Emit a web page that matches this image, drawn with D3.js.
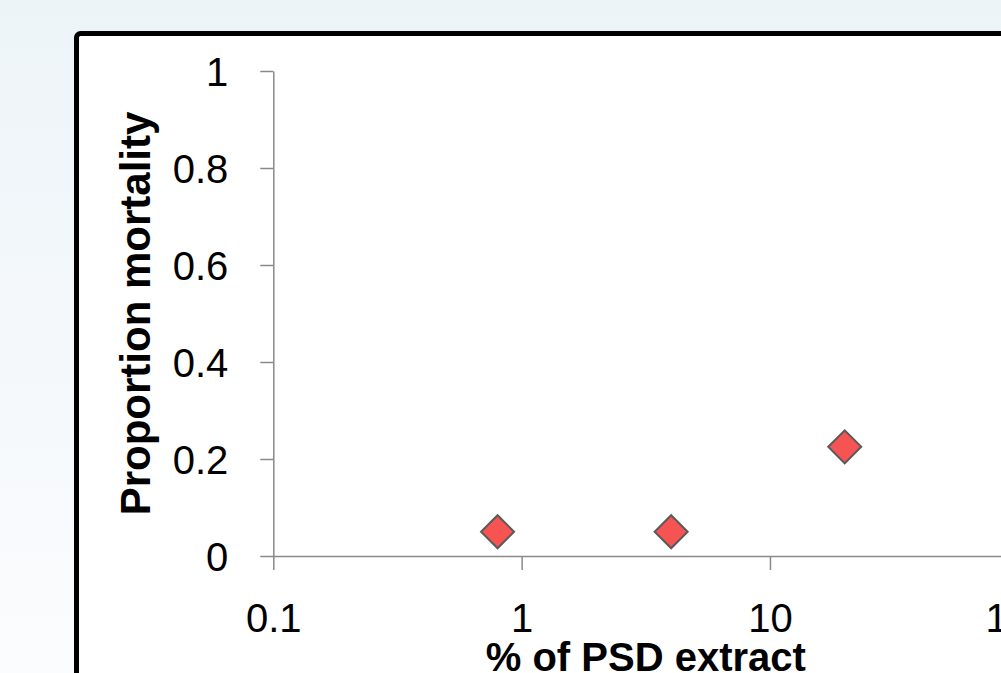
<!DOCTYPE html>
<html>
<head>
<meta charset="utf-8">
<script src="https://cdn.jsdelivr.net/npm/d3@7"></script>
<style>
  html, body { margin: 0; padding: 0; overflow: hidden; }
  svg { display: block; }
</style>
</head>
<body>
<svg id="chart" width="1001" height="673"></svg>
<script>
// ---- data ----
const xTickValues = [0.1, 1, 10, 100];
const xTickLabels = ["0.1", "1", "10", "100"];
const yTickValues = [0, 0.2, 0.4, 0.6, 0.8, 1];
const yTickLabels = ["0", "0.2", "0.4", "0.6", "0.8", "1"];
const pctExtract = [0.8, 4, 20];
const mortality = [0.05, 0.05, 0.225];
const xTitle = "% of PSD extract";
const yTitle = "Proportion mortality";

// ---- layout ----
const W = 1001, H = 673;
const svg = d3.select("#chart");
const defs = svg.append("defs");
const grad = defs.append("linearGradient").attr("id", "bg")
  .attr("x1", 0).attr("y1", 0).attr("x2", 0).attr("y2", 1);
grad.append("stop").attr("offset", "0%").attr("stop-color", "#edf4f8");
grad.append("stop").attr("offset", "100%").attr("stop-color", "#fbfcfe");

svg.append("rect").attr("width", W).attr("height", H).attr("fill", "url(#bg)");

// chart box
svg.append("rect")
  .attr("x", 76.5).attr("y", 33.5)
  .attr("width", 1100).attr("height", 900)
  .attr("rx", 4)
  .attr("fill", "#ffffff")
  .attr("stroke", "#000000")
  .attr("stroke-width", 5);

const x = d3.scaleLog().domain([0.1, 100]).range([273.3, 1018.3]);
const y = d3.scaleLinear().domain([0, 1]).range([556, 71]);

const font = "'Liberation Sans', Arial, sans-serif";
const axisColor = "#8a8a8a";

// y axis
const yAxis = svg.append("g")
  .attr("transform", `translate(${x(0.1)},0)`)
  .call(d3.axisLeft(y).tickValues(yTickValues)
    .tickFormat((d, i) => yTickLabels[i])
    .tickSize(13).tickSizeOuter(0).tickPadding(32));
yAxis.selectAll("text").attr("dy", "0.36em");

// x axis
const xAxis = svg.append("g")
  .attr("transform", `translate(0,${y(0)})`)
  .call(d3.axisBottom(x).tickValues(xTickValues)
    .tickFormat((d, i) => xTickLabels[i])
    .tickSize(14).tickSizeOuter(0).tickPadding(33.6));

[yAxis, xAxis].forEach(g => {
  g.select(".domain").attr("stroke", axisColor).attr("stroke-width", 1.5);
  g.selectAll(".tick line").attr("stroke", axisColor).attr("stroke-width", 1.5);
  g.selectAll("text").attr("fill", "#000").style("font-family", font).style("font-size", "40px");
});

// axis titles
svg.append("text")
  .attr("x", (x.range()[0] + x.range()[1]) / 2)
  .attr("y", 671)
  .attr("text-anchor", "middle")
  .style("font-family", font).style("font-size", "40px").style("font-weight", "bold")
  .text(xTitle);

svg.append("text")
  .attr("transform", `translate(150,${(y(0) + y(1)) / 2}) rotate(-90)`)
  .attr("text-anchor", "middle")
  .style("font-family", font).style("font-size", "42px").style("font-weight", "bold")
  .text(yTitle);

// points
const pts = pctExtract.map((v, i) => ({ x: v, y: mortality[i] }));
const sym = d3.symbol().type(d3.symbolSquare).size(545);
svg.append("g").selectAll("path").data(pts).join("path")
  .attr("d", sym)
  .attr("transform", d => `translate(${x(d.x)},${y(d.y)}) rotate(45)`)
  .attr("fill", "#f65353")
  .attr("stroke", "#5a5a5a")
  .attr("stroke-width", 2);
</script>
</body>
</html>
